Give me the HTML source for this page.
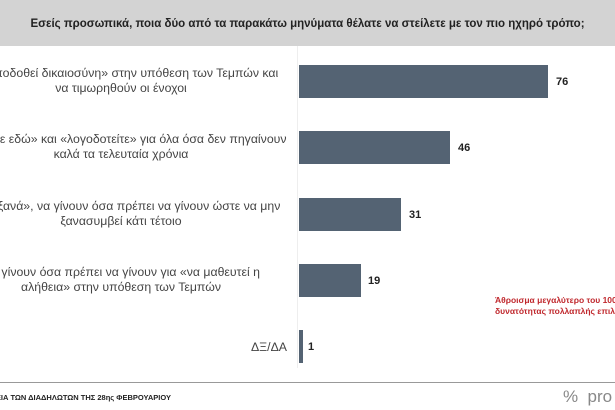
<!DOCTYPE html>
<html><head><meta charset="utf-8"><style>
body{margin:0;width:615px;height:410px;overflow:hidden;background:#fff;position:relative;font-family:"Liberation Sans","DejaVu Sans",sans-serif}
.hdr{position:absolute;left:0;top:0;width:615px;height:46px;background:#d3d3d3}
.hdr div{position:absolute;top:18px;left:0;width:615px;text-align:center;font-size:11.5px;font-weight:bold;color:#222;white-space:nowrap}
.bar{position:absolute;left:299px;background:#546373}
.val{position:absolute;font-size:11px;font-weight:bold;color:#222}
.lab{position:absolute;left:-45px;width:332px;text-align:center;font-size:12.3px;color:#444;line-height:15px;white-space:nowrap;display:flex;flex-direction:column;align-items:center}
.axis{position:absolute;left:297px;top:46px;width:1px;height:322px;background:#eee}
</style></head><body>
<div class="hdr"><div>Εσείς προσωπικά, ποια δύο από τα παρακάτω μηνύματα θέλατε να στείλετε με τον πιο ηχηρό τρόπο;</div></div>
<div class="axis"></div>
<div class="lab" style="top:66px"><span>«να αποδοθεί δικαιοσύνη» στην υπόθεση των Τεμπών και</span><span>να τιμωρηθούν οι ένοχοι</span></div>
<div class="bar" style="top:65px;height:33px;width:249px"></div><div class="val" style="left:556px;top:76px">76</div>
<div class="lab" style="top:132px"><span>«Είμαστε εδώ» και «λογοδοτείτε» για όλα όσα δεν πηγαίνουν</span><span>καλά τα τελευταία χρόνια</span></div>
<div class="bar" style="top:131px;height:33px;width:151px"></div><div class="val" style="left:458px;top:142px">46</div>
<div class="lab" style="top:199px"><span>«Ποτέ ξανά», να γίνουν όσα πρέπει να γίνουν ώστε να μην</span><span>ξανασυμβεί κάτι τέτοιο</span></div>
<div class="bar" style="top:198px;height:33px;width:102px"></div><div class="val" style="left:409px;top:209px">31</div>
<div class="lab" style="top:265px"><span>Να γίνουν όσα πρέπει να γίνουν για «να μαθευτεί η</span><span>αλήθεια» στην υπόθεση των Τεμπών</span></div>
<div class="bar" style="top:264px;height:33px;width:62px"></div><div class="val" style="left:368px;top:275px">19</div>
<div style="position:absolute;right:328px;top:340px;font-size:12.3px;color:#444">ΔΞ/ΔΑ</div>
<div class="bar" style="top:330px;height:33px;width:4px"></div><div class="val" style="left:308px;top:341px">1</div>
<div style="position:absolute;left:495px;top:295px;font-size:8.5px;font-weight:bold;color:#c0282d;line-height:11px;white-space:nowrap">Άθροισμα μεγαλύτερο του 100 λόγω<br>δυνατότητας πολλαπλής επιλογής</div>
<div style="position:absolute;left:0;top:382px;width:615px;height:1px;background:#999"></div>
<div style="position:absolute;left:-26px;top:393px;font-size:7.5px;font-weight:bold;color:#222;white-space:nowrap">ΣΤΟΙΧΕΙΑ ΤΩΝ ΔΙΑΔΗΛΩΤΩΝ ΤΗΣ 28ης ΦΕΒΡΟΥΑΡΙΟΥ</div>
<div style="position:absolute;left:563px;top:387px;font-size:17px;color:#888;white-space:nowrap">%&nbsp; pro</div>
</body></html>
